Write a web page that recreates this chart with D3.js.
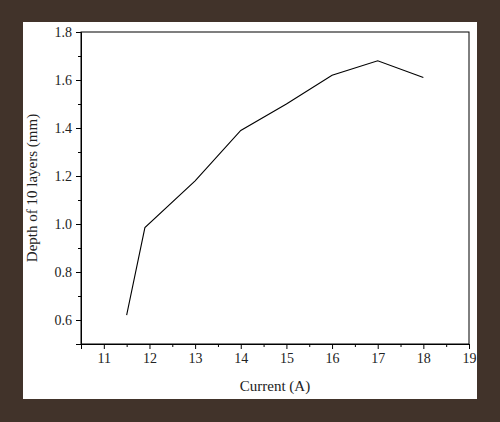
<!DOCTYPE html><html><head><script src="https://cdn.jsdelivr.net/npm/d3@7"></script>
<style>body{margin:0;background:#41332a}</style></head><body><svg id="c" width="500" height="422"></svg>
<script>
const current=[11.5,11.9,13,14,15,16,17,18];
const depth=[0.62,0.985,1.18,1.39,1.5,1.62,1.68,1.61];
const xTicks=[11,12,13,14,15,16,17,18,19];
const yTicks=[0.6,0.8,1.0,1.2,1.4,1.6,1.8];
const svg=d3.select("#c");
svg.append("rect").attr("width",500).attr("height",422).attr("fill","#41332a");
svg.append("rect").attr("x",23).attr("y",22).attr("width",454).attr("height",377).attr("fill","#fff");
const L=81,R=469,T=32,B=344;
const x=d3.scaleLinear().domain([10.5,19]).range([L,R]);
const y=d3.scaleLinear().domain([0.5,1.8]).range([B,T]);
const font="Liberation Serif, DejaVu Serif, serif";
svg.append("rect").attr("x",L).attr("y",T).attr("width",R-L).attr("height",B-T).attr("fill","none").attr("stroke","#000").attr("stroke-width",1);
const xa=svg.append("g").attr("transform",`translate(0,${B})`).call(d3.axisBottom(x).tickValues(xTicks).tickSize(5).tickPadding(4).tickFormat(d3.format("d")));
svg.append("g").attr("transform",`translate(0,${B})`).call(d3.axisBottom(x).tickValues(d3.range(10.5,19,0.5).filter(v=>v%1)).tickSize(3).tickFormat("")).select(".domain").remove();
const ya=svg.append("g").attr("transform",`translate(${L},0)`).call(d3.axisLeft(y).tickValues(yTicks).tickSize(5).tickPadding(4).tickFormat(d3.format(".1f")));
svg.append("g").attr("transform",`translate(${L},0)`).call(d3.axisLeft(y).tickValues([0.5,0.7,0.9,1.1,1.3,1.5,1.7]).tickSize(3).tickFormat("")).select(".domain").remove();
svg.selectAll("text").attr("font-family",font).attr("font-size",14).attr("fill","#222");
svg.append("path").datum(current.map((c,i)=>[c,depth[i]])).attr("fill","none").attr("stroke","#000").attr("stroke-width",1.1)
 .attr("d",d3.line().x(d=>x(d[0])).y(d=>y(d[1])));
svg.append("text").attr("x",(L+R)/2).attr("y",391).attr("text-anchor","middle").attr("font-family",font).attr("font-size",15).attr("fill","#222").text("Current (A)");
svg.append("text").attr("transform",`translate(37,${(T+B)/2}) rotate(-90)`).attr("text-anchor","middle").attr("font-family",font).attr("font-size",15).attr("fill","#222").text("Depth of 10 layers (mm)");
</script></body></html>
